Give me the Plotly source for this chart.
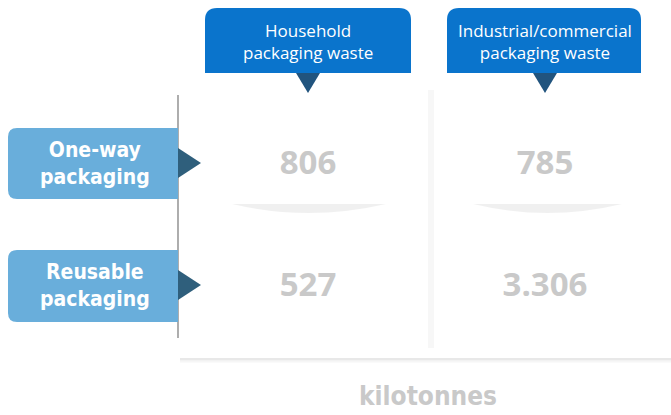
import plotly.graph_objects as go

# table content
columns = ["Household<br>packaging waste", "Industrial/commercial<br>packaging waste"]
rows = ["One-way<br>packaging", "Reusable<br>packaging"]
values = [[806, 785],
          [527, 3306]]
unit = "kilotonnes"

# layout in pixels (y counted from the top)
W, H = 671, 415
col_x = [308, 545]
col_box = [(205, 411), (447, 641)]
row_y = [163, 285]
row_box = [(128, 199), (250, 322)]
panel = (178, 671, 80, 358)

header_blue = "#0a74cc"
row_blue = "#69aedb"
num_grey = "#c9c9c9"
narrow = "DejaVu Sans Condensed, Liberation Sans Narrow, Roboto"


def rounded(x0, x1, y0, y1, r, corners):
    # corners: which corners are rounded, among "tl", "tr", "br", "bl"
    rt = r if "tl" in corners else 0
    rr = r if "tr" in corners else 0
    rb = r if "br" in corners else 0
    rl = r if "bl" in corners else 0
    p = f"M {x0+rt},{y0} L {x1-rr},{y0} "
    p += f"Q {x1},{y0} {x1},{y0+rr} " if rr else ""
    p += f"L {x1},{y1-rb} "
    p += f"Q {x1},{y1} {x1-rb},{y1} " if rb else ""
    p += f"L {x0+rl},{y1} "
    p += f"Q {x0},{y1} {x0},{y1-rl} " if rl else ""
    p += f"L {x0},{y0+rt} "
    p += f"Q {x0},{y0} {x0+rt},{y0} " if rt else ""
    return p + "Z"


shapes = []
# panel shadow + panel
px0, px1, py0, py1 = panel
for i, a in enumerate([0.02, 0.03, 0.04]):
    shapes.append(dict(type="rect", x0=px0 + 2, x1=px1, y0=py0 + 10, y1=py1 + 5 - i * 1.5,
                       fillcolor=f"rgba(0,0,0,{a})", line_width=0, layer="below"))
shapes.append(dict(type="rect", x0=px0, x1=px1, y0=py0, y1=py1,
                   fillcolor="white", line_width=0, layer="below"))
shapes.append(dict(type="line", x0=px0, x1=px0, y0=py0 + 15, y1=py1 - 20,
                   line=dict(color="rgba(60,60,60,0.7)", width=1.2)))
# shadow between the two columns
shapes.append(dict(type="rect", x0=428, x1=434, y0=py0 + 10, y1=py1 - 10,
                   fillcolor="rgba(0,0,0,0.03)", line_width=0))
# curved shadows between rows
for (cx0, cx1) in [(232, 386), (473, 622)]:
    mid = (cx0 + cx1) / 2
    shapes.append(dict(type="path",
                       path=f"M {cx0},204 Q {mid},222 {cx1},204 Z",
                       fillcolor="rgba(0,0,0,0.06)", line_width=0))

# header callouts
for (x0, x1), cx in zip(col_box, col_x):
    shapes.append(dict(type="path", path=rounded(x0, x1, 8, 73, 12, ("tl", "tr")),
                       fillcolor=header_blue, line_width=0))
    shapes.append(dict(type="path",
                       path=f"M {cx-12},73 L {cx+12},73 L {cx},93 Z",
                       fillcolor="#21547e", line_width=0))

# row callouts
for (y0, y1), cy in zip(row_box, row_y):
    shapes.append(dict(type="path", path=rounded(8, 178, y0, y1, 9, ("tl", "bl")),
                       fillcolor=row_blue, line_width=0))
    shapes.append(dict(type="path",
                       path=f"M 178,{cy-15} L 201,{cy} L 178,{cy+15} Z",
                       fillcolor="#2f5f7c", line_width=0))

annotations = []
for label, cx in zip(columns, col_x):
    annotations.append(dict(x=cx, y=41, text=label, showarrow=False,
                            font=dict(family="Open Sans", size=17, color="white")))
for label, cy in zip(rows, row_y):
    annotations.append(dict(x=95, y=cy, text="<b>" + label + "</b>", showarrow=False,
                            font=dict(family=narrow, size=21, color="white")))
annotations.append(dict(x=428, y=396, text=f"<b>{unit}</b>", showarrow=False,
                        font=dict(family=narrow, size=26, color=num_grey)))

xs, ys, texts = [], [], []
for ri, row in enumerate(values):
    for ci, v in enumerate(row):
        xs.append(col_x[ci])
        ys.append(row_y[ri] + 3)
        texts.append("<b>" + f"{v:,}".replace(",", ".") + "</b>")

fig = go.Figure(go.Scatter(x=xs, y=ys, text=texts, mode="text",
                           textfont=dict(family="Open Sans", size=33, color=num_grey),
                           hoverinfo="skip"))

fig.update_layout(width=W, height=H, margin=dict(l=0, r=0, t=0, b=0),
                  paper_bgcolor="white", plot_bgcolor="white",
                  shapes=shapes, annotations=annotations, showlegend=False)
fig.update_xaxes(range=[0, W], visible=False, fixedrange=True)
fig.update_yaxes(range=[H, 0], visible=False, fixedrange=True)

fig.write_html("out.html", config={"displayModeBar": False},
               post_script="document.body.style.margin='0';")
